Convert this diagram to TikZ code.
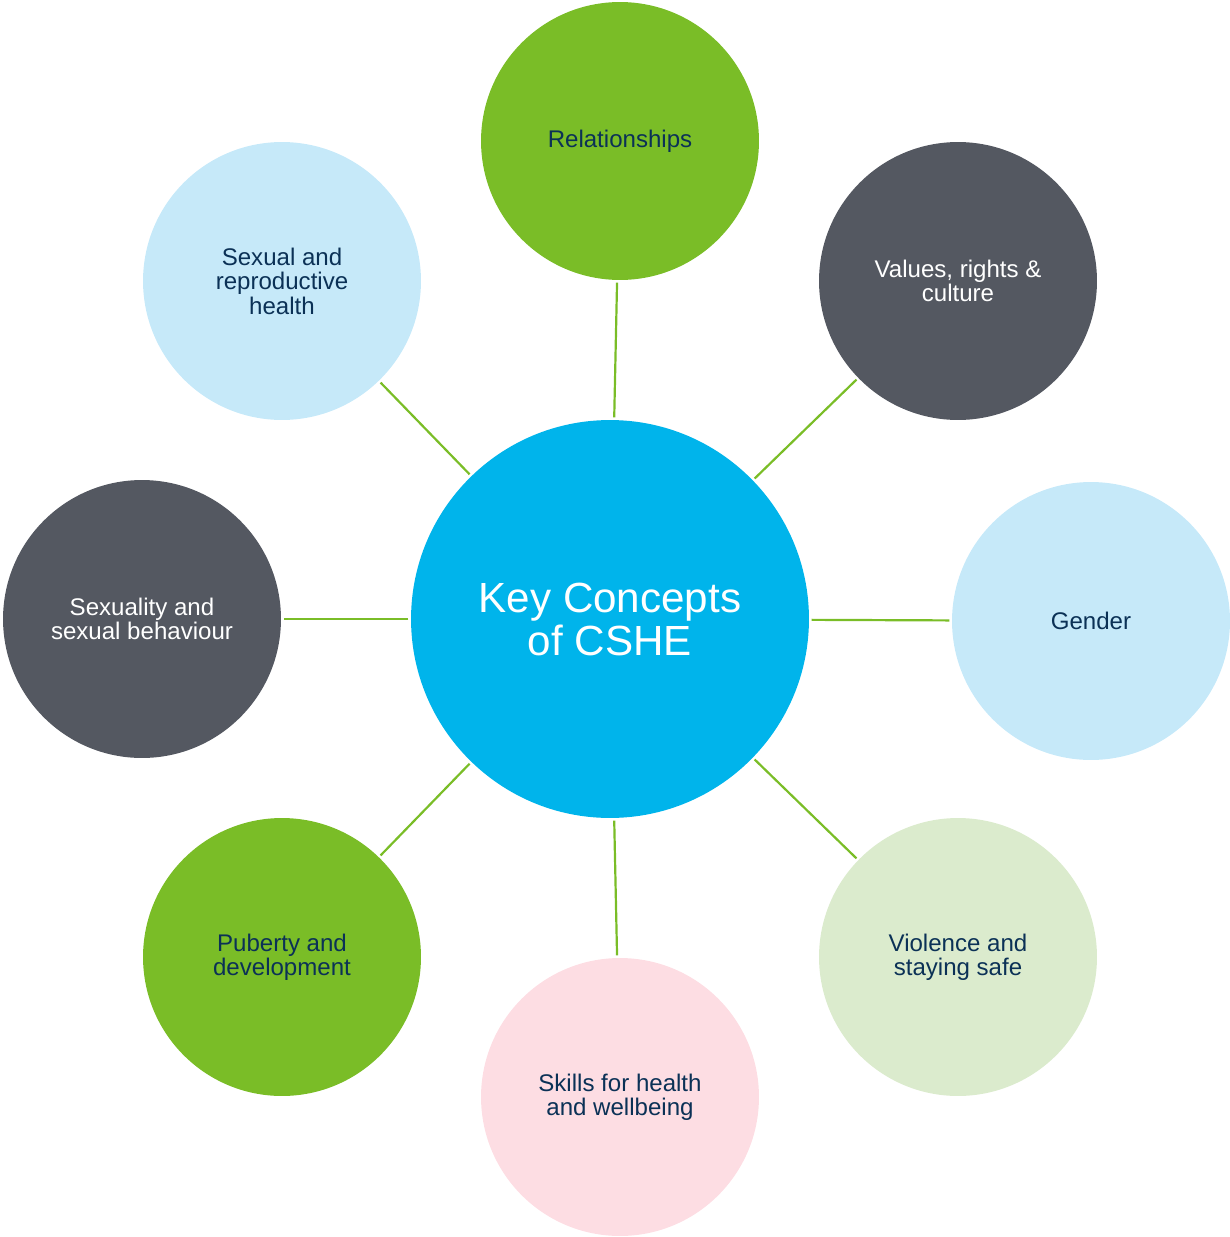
\documentclass[tikz,border=0pt]{standalone}
\usepackage{fontspec}
\setmainfont{Liberation Sans}
\usetikzlibrary{positioning}
\definecolor{leafgreen}{HTML}{7ABD27}
\definecolor{slate}{HTML}{545861}
\definecolor{skyblue}{HTML}{C6E9F9}
\definecolor{palegreen}{HTML}{DBEBCD}
\definecolor{palepink}{HTML}{FDDDE3}
\definecolor{cyanblue}{HTML}{00B4EB}
\definecolor{navytext}{HTML}{0B3156}
\tikzset{
    hub/.style = {
        shape=circle,
        fill=cyanblue,
        minimum size=7.96cm,
        inner sep=0pt,
        align=center,
        text=white,
        font=\fontsize{24}{24.5}\selectfont
    },
    topic/.style = {
        shape=circle,
        minimum size=5.56cm,
        inner sep=0pt,
        align=center,
        font=\fontsize{13.7}{13.9}\selectfont
    },
    darktopic/.style = {topic, fill=slate, text=white},
    lighttopic/.style = {topic, text=navytext},
    spoke/.style = {
        draw=leafgreen,
        line width=1.25pt,
        shorten >=1.3pt,
        shorten <=1.3pt
    },
}

\begin{document}
\begin{tikzpicture}[x=0.02cm, y=-0.02cm]
        \useasboundingbox (0,0) rectangle (1230,1237);

        \node[hub] (cshe) at (610,619) {Key Concepts\\of CSHE};

        \node[lighttopic, fill=leafgreen] (rel) at (620,141) {Relationships};
        \node[darktopic] (values) at (958,281) {Values, rights \&\\culture};
        \node[lighttopic, fill=skyblue] (gender) at (1091,621) {Gender};
        \node[lighttopic, fill=palegreen] (violence) at (958,957) {Violence and\\staying safe};
        \node[lighttopic, fill=palepink] (skills) at (620,1097) {Skills for health\\and wellbeing};
        \node[lighttopic, fill=leafgreen] (puberty) at (282,957) {Puberty and\\development};
        \node[darktopic] (sexuality) at (142,619) {Sexuality and\\sexual behaviour};
        \node[lighttopic, fill=skyblue] (health) at (282,281) {Sexual and\\reproductive\\health};

        \path[spoke] (cshe) -- (rel);
        \path[spoke] (cshe) -- (values);
        \path[spoke] (cshe) -- (gender);
        \path[spoke] (cshe) -- (violence);
        \path[spoke] (cshe) -- (skills);
        \path[spoke] (cshe) -- (puberty);
        \path[spoke] (cshe) -- (sexuality);
        \path[spoke] (cshe) -- (health);
    \end{tikzpicture}
\end{document}
